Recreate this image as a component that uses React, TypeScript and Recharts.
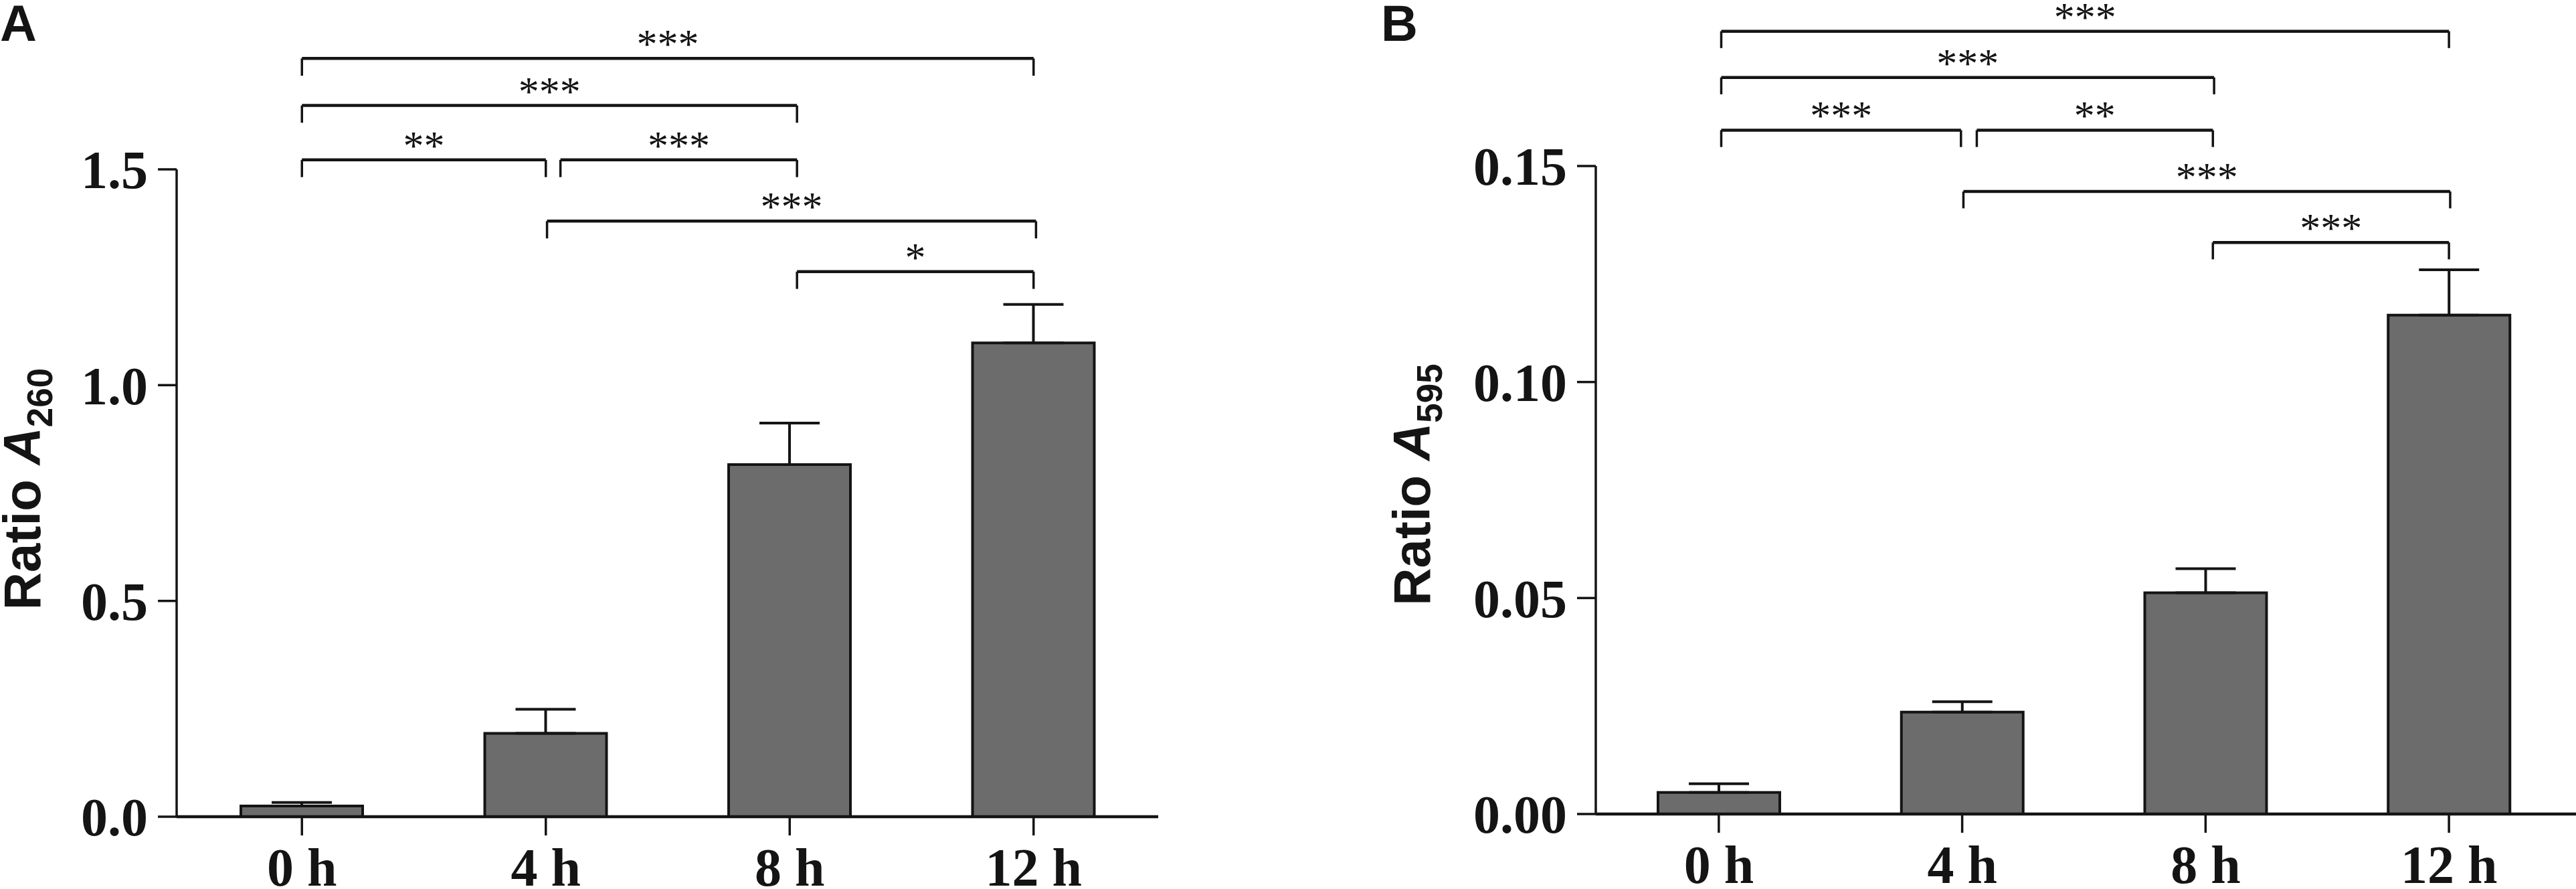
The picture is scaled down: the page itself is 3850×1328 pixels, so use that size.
import React from 'react';
import { BarChart, Bar, XAxis, YAxis, ErrorBar, ReferenceLine } from 'recharts';

// ---- data ----
const categories = ['0 h', '4 h', '8 h', '12 h'];

const ratioA260 = [0.025, 0.193, 0.816, 1.098];
const semA260 = [0.008, 0.056, 0.096, 0.089];

const ratioA595 = [0.005, 0.0236, 0.0512, 0.1155];
const semA595 = [0.002, 0.0024, 0.0056, 0.0105];

const ticksA = [0, 0.5, 1.0, 1.5];
const ticksB = [0, 0.05, 0.1, 0.15];

// significance brackets: from / to are category positions (0 = "0 h" ... 3 = "12 h"), level in data units
const bracketFromA = [0, 0, 0, 1.06, 1.005, 2.03];
const bracketToA = [3, 2.03, 1.0, 2.03, 3.01, 3.0];
const bracketLevelA = [1.757, 1.648, 1.522, 1.522, 1.38, 1.263];
const bracketTextA = ['***', '***', '**', '***', '***', '*'];

const bracketFromB = [0.01, 0.01, 0.01, 1.06, 1.005, 2.03];
const bracketToB = [3.0, 2.035, 0.995, 2.03, 3.005, 3.0];
const bracketLevelB = [0.1812, 0.1705, 0.1583, 0.1583, 0.1441, 0.1323];
const bracketTextB = ['***', '***', '***', '**', '***', '***'];

const rowsA = categories.map((c, i) => ({ name: c, pos: i, value: ratioA260[i], err: [0, semA260[i]] }));
const rowsB = categories.map((c, i) => ({ name: c, pos: i, value: ratioA595[i], err: [0, semA595[i]] }));

const INK = '#141414';
const BAR = '#6c6c6c';
const SERIF = '"Liberation Serif", "Times New Roman", serif';
const SANS = '"Liberation Sans", Arial, sans-serif';

function YTitle(props: any) {
  const { viewBox, baseX, sub, shift } = props;
  const vb = viewBox || { y: 250, height: 968 };
  const cy = vb.y + vb.height / 2 + (shift || 0);
  return (
    <text
      x={baseX}
      y={cy}
      transform={`rotate(-90 ${baseX} ${cy})`}
      textAnchor="middle"
      fontFamily={SANS}
      fontWeight="bold"
      fontSize={78}
      fill={INK}
    >
      <tspan>Ratio </tspan>
      <tspan fontStyle="italic">A</tspan>
      <tspan fontSize={53} dy={18}>{sub}</tspan>
    </text>
  );
}

function renderBrackets(from: number[], to: number[], level: number[], text: string[], leg: number) {
  const out: any[] = [];
  from.forEach((f, i) => {
    const t = to[i];
    const y = level[i];
    out.push(
      <ReferenceLine
        key={`h${i}`}
        xAxisId="n"
        segment={[{ x: f, y }, { x: t, y }]}
        stroke={INK}
        strokeWidth={4.5}
        ifOverflow="visible"
        label={{ value: text[i], position: 'top', offset: 1, fontSize: 62, fontFamily: SERIF, fill: INK }}
      />
    );
    out.push(
      <ReferenceLine
        key={`l${i}`}
        xAxisId="n"
        segment={[{ x: f, y }, { x: f, y: y - leg }]}
        stroke={INK}
        strokeWidth={3.5}
        ifOverflow="visible"
      />
    );
    out.push(
      <ReferenceLine
        key={`r${i}`}
        xAxisId="n"
        segment={[{ x: t, y }, { x: t, y: y - leg }]}
        stroke={INK}
        strokeWidth={3.5}
        ifOverflow="visible"
      />
    );
  });
  return out;
}

const tickStyle = { fontFamily: SERIF, fontWeight: 'bold', fontSize: 80, fill: INK } as any;

function Panel(props: any) {
  const { rows, ticks, fmt, yMax, top, xAxisH, yAxisW, right, padL, padR, title, titleX, titleShift, brackets } = props;
  return (
    <BarChart
      width={1925}
      height={1328}
      data={rows}
      margin={{ top, right, bottom: 0, left: 0 }}
    >
      <XAxis
        dataKey="name"
        type="category"
        height={xAxisH}
        padding={{ left: padL, right: padR }}
        axisLine={{ stroke: INK, strokeWidth: 4.5 }}
        tickLine={{ stroke: INK, strokeWidth: 3.5 }}
        tickSize={28}
        tickMargin={18}
        tick={tickStyle}
        interval={0}
      />
      <XAxis
        xAxisId="n"
        dataKey="pos"
        type="number"
        domain={[-0.5, 3.5]}
        allowDataOverflow
        padding={{ left: padL, right: padR }}
        hide
      />
      <YAxis
        type="number"
        domain={[0, yMax]}
        ticks={ticks}
        interval={0}
        allowDataOverflow
        width={yAxisW}
        axisLine={{ stroke: INK, strokeWidth: 3.5 }}
        tickLine={{ stroke: INK, strokeWidth: 3.5 }}
        tickSize={28}
        tickMargin={15}
        tick={tickStyle}
        tickFormatter={fmt}
        label={<YTitle baseX={titleX} sub={title} shift={titleShift} />}
      />
      <Bar
        dataKey="value"
        fill={BAR}
        stroke={INK}
        strokeWidth={4}
        barSize={182}
        isAnimationActive={false}
      >
        <ErrorBar dataKey="err" direction="y" width={45} stroke={INK} strokeWidth={4} isAnimationActive={false} />
      </Bar>
      {brackets}
    </BarChart>
  );
}

const letterStyle: any = {
  position: 'absolute',
  fontFamily: SANS,
  fontWeight: 'bold',
  fontSize: 76,
  lineHeight: '58px',
  color: INK,
  margin: 0,
};

export default function App() {
  return (
    <div style={{ position: 'absolute', left: 0, top: 0, width: 3850, height: 1328, background: '#fff', overflow: 'hidden' }}>
      <div style={{ position: 'absolute', left: 0, top: 0 }}>
        <Panel
          rows={rowsA}
          ticks={ticksA}
          fmt={(v: number) => v.toFixed(1)}
          yMax={1.5}
          top={253}
          xAxisH={108}
          yAxisW={264}
          right={194}
          padL={5}
          padR={4}
          title="260"
          titleX={60}
          titleShift={-6}
          brackets={renderBrackets(bracketFromA, bracketToA, bracketLevelA, bracketTextA, 0.04)}
        />
      </div>
      <div style={{ position: 'absolute', left: 1925, top: 0 }}>
        <Panel
          rows={rowsB}
          ticks={ticksB}
          fmt={(v: number) => v.toFixed(2)}
          yMax={0.15}
          top={248}
          xAxisH={112}
          yAxisW={460}
          right={0}
          padL={2}
          padR={8}
          title="595"
          titleX={212}
          titleShift={-8}
          brackets={renderBrackets(bracketFromB, bracketToB, bracketLevelB, bracketTextB, 0.0039)}
        />
      </div>
      <div style={{ ...letterStyle, left: 0, top: 6 }}>A</div>
      <div style={{ ...letterStyle, left: 2064, top: 6 }}>B</div>
    </div>
  );
}
